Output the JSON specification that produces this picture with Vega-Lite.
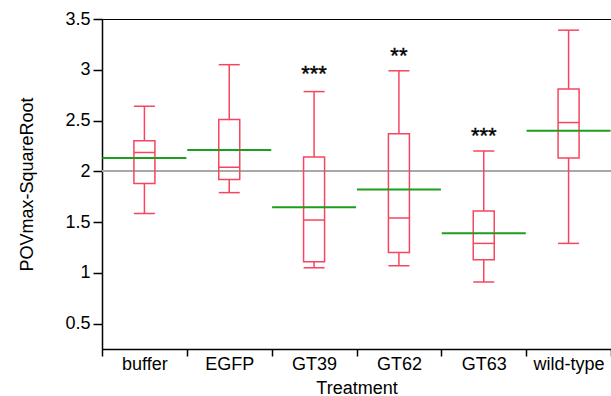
{
  "$schema": "https://vega.github.io/schema/vega-lite/v6.json",
  "width": 509,
  "height": 330,
  "autosize": {"type": "none"},
  "padding": {"left": 102, "top": 19, "right": 0, "bottom": 47},
  "config": {
    "view": {"stroke": "#000000", "strokeWidth": 1},
    "font": "Liberation Sans",
    "axis": {"domainColor": "#000000", "domainWidth": 1.5, "tickColor": "#000000", "tickWidth": 1.5, "labelColor": "#000000", "titleColor": "#000000", "labelFont": "Liberation Sans", "titleFont": "Liberation Sans", "labelFontSize": 18, "titleFontSize": 18, "titleFontWeight": "normal", "grid": false}
  },
  "data": {
    "values": [
      {"Treatment": "buffer", "lower": 1.585, "q1": 1.88, "median": 2.185, "q3": 2.30, "upper": 2.64, "mean": 2.13, "star": "", "stary": 3.0},
      {"Treatment": "EGFP", "lower": 1.79, "q1": 1.92, "median": 2.04, "q3": 2.51, "upper": 3.05, "mean": 2.21, "star": "", "stary": 3.0},
      {"Treatment": "GT39", "lower": 1.05, "q1": 1.11, "median": 1.52, "q3": 2.14, "upper": 2.785, "mean": 1.645, "star": "***", "stary": 2.99},
      {"Treatment": "GT62", "lower": 1.07, "q1": 1.20, "median": 1.54, "q3": 2.37, "upper": 2.99, "mean": 1.82, "star": "**", "stary": 3.17},
      {"Treatment": "GT63", "lower": 0.91, "q1": 1.13, "median": 1.29, "q3": 1.61, "upper": 2.20, "mean": 1.39, "star": "***", "stary": 2.38},
      {"Treatment": "wild-type", "lower": 1.29, "q1": 2.13, "median": 2.48, "q3": 2.81, "upper": 3.39, "mean": 2.40, "star": "", "stary": 3.0}
    ]
  },
  "encoding": {
    "x": {
      "field": "Treatment", "type": "nominal", "sort": null,
      "scale": {"paddingInner": 0, "paddingOuter": 0},
      "axis": {"labelAngle": 0, "tickBand": "extent", "tickSize": 7, "labelPadding": -1, "title": "Treatment", "titleY": 39, "titleBaseline": "middle"}
    }
  },
  "layer": [
    {
      "mark": {"type": "rule", "color": "#a8a8a8", "strokeWidth": 1.5},
      "encoding": {"x": null, "y": {"datum": 2, "type": "quantitative"}}
    },
    {
      "mark": {"type": "rule", "color": "#f7455f", "strokeWidth": 1.5},
      "encoding": {
        "y": {"field": "lower", "type": "quantitative", "scale": {"domain": [0.25, 3.5], "nice": false, "zero": false},
          "axis": {
            "title": "POVmax-SquareRoot",
            "values": [0.5, 0.75, 1, 1.25, 1.5, 1.75, 2, 2.25, 2.5, 2.75, 3, 3.25, 3.5],
            "format": "~g",
            "labelExpr": "datum.value % 0.5 === 0 ? datum.label : ''",
            "labelOverlap": false,
            "labelFlush": false,
            "tickSize": {"condition": {"test": "datum.value % 0.5 === 0", "value": 9}, "value": 5},
            "labelPadding": 3,
            "titleX": -75, "titleY": 165, "titleAngle": 270, "titleBaseline": "middle", "titleAlign": "center"
          }},
        "y2": {"field": "q1"}
      }
    },
    {
      "mark": {"type": "rule", "color": "#f7455f", "strokeWidth": 1.5},
      "encoding": {"y": {"field": "q3", "type": "quantitative"}, "y2": {"field": "upper"}}
    },
    {
      "mark": {"type": "tick", "color": "#f7455f", "thickness": 1.5, "size": 21, "opacity": 1},
      "encoding": {"y": {"field": "lower", "type": "quantitative"}}
    },
    {
      "mark": {"type": "tick", "color": "#f7455f", "thickness": 1.5, "size": 21, "opacity": 1},
      "encoding": {"y": {"field": "upper", "type": "quantitative"}}
    },
    {
      "mark": {"type": "bar", "width": 21, "fillOpacity": 0, "stroke": "#f7455f", "strokeWidth": 1.5},
      "encoding": {"y": {"field": "q1", "type": "quantitative"}, "y2": {"field": "q3"}}
    },
    {
      "mark": {"type": "tick", "color": "#f7455f", "thickness": 1.5, "size": 21, "opacity": 1},
      "encoding": {"y": {"field": "median", "type": "quantitative"}}
    },
    {
      "mark": {"type": "tick", "color": "#1e9e1e", "thickness": 2, "size": 84, "opacity": 1},
      "encoding": {"y": {"field": "mean", "type": "quantitative"}}
    },
    {
      "mark": {"type": "text", "fontSize": 22, "baseline": "middle", "align": "center", "color": "#000000", "dy": 3, "stroke": "#000000", "strokeWidth": 0.4},
      "encoding": {"y": {"field": "stary", "type": "quantitative"}, "text": {"field": "star"}}
    }
  ]
}
